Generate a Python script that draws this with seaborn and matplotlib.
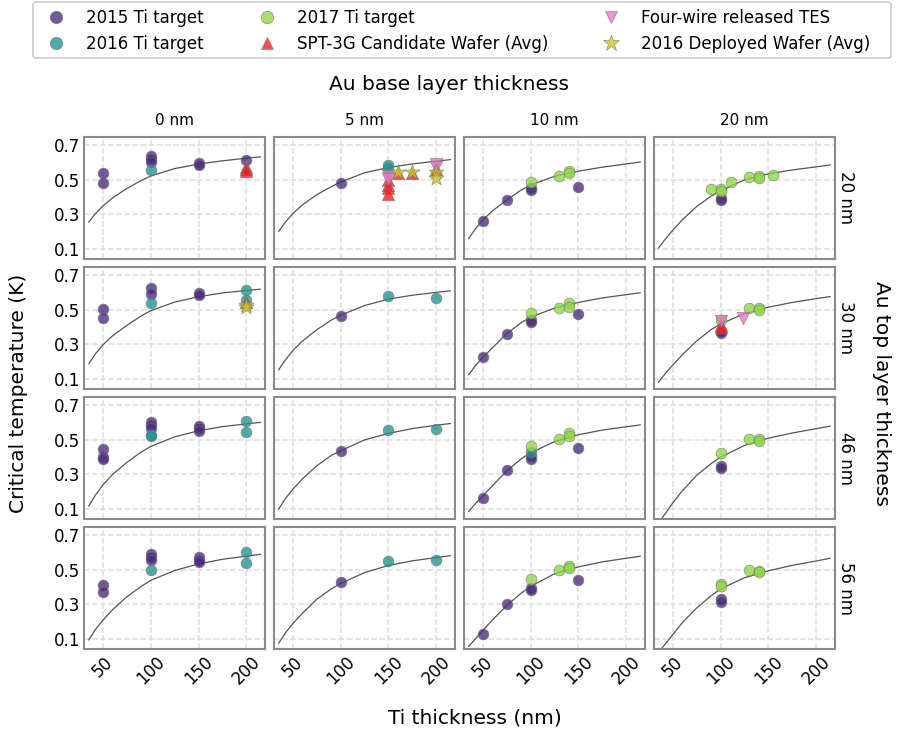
import numpy as np
import pandas as pd
import matplotlib
matplotlib.use("Agg")
import matplotlib.pyplot as plt
import seaborn as sns
from matplotlib.lines import Line2D
from matplotlib.patches import FancyBboxPatch

# ---------------- data ----------------
top_layers = [20, 30, 46, 56]          # Au top layer thickness (rows)
base_layers = [0, 5, 10, 20]           # Au base layer thickness (columns)
x_ticks = [50, 100, 150, 200]
y_ticks = [0.1, 0.3, 0.5, 0.7]

# 2015 Ti target: (top, base, Ti, Tc)
s2015_top  = [20]*8 + [20] + [20]*5 + [20]*2 + [30]*6 + [30] + [30]*5 + [30]*2 + [46]*9 + [46] + [46]*5 + [46]*2 + [56]*8 + [56] + [56]*5 + [56]*2
s2015_base = [0]*8 + [5] + [10]*5 + [20]*2 + [0]*6 + [5] + [10]*5 + [20]*2 + [0]*9 + [5] + [10]*5 + [20]*2 + [0]*8 + [5] + [10]*5 + [20]*2
s2015_ti = [50, 50, 100, 100, 100, 150, 150, 200,
            100,
            50, 75, 100, 100, 150,
            100, 100,
            50, 50, 100, 100, 150, 150,
            100,
            50, 75, 100, 100, 150,
            100, 100,
            50, 50, 50, 100, 100, 100, 150, 150, 150,
            100,
            50, 75, 100, 100, 150,
            100, 100,
            50, 50, 100, 100, 100, 150, 150, 150,
            100,
            50, 75, 100, 100, 150,
            100, 100]
s2015_tc = [0.537, 0.483, 0.637, 0.620, 0.604, 0.600, 0.588, 0.617,
            0.483,
            0.262, 0.383, 0.450, 0.440, 0.460,
            0.396, 0.383,
            0.504, 0.450, 0.627, 0.594, 0.598, 0.585,
            0.465,
            0.225, 0.362, 0.440, 0.431, 0.475,
            0.377, 0.363,
            0.448, 0.400, 0.390, 0.602, 0.585, 0.569, 0.583, 0.569, 0.554,
            0.438,
            0.162, 0.323, 0.406, 0.392, 0.454,
            0.348, 0.335,
            0.412, 0.370, 0.590, 0.575, 0.555, 0.574, 0.560, 0.548,
            0.428,
            0.129, 0.304, 0.393, 0.383, 0.443,
            0.332, 0.317]

# 2016 Ti target
s2016_top  = [20, 20, 20, 30, 30, 30, 30, 30, 46, 46, 46, 46, 46, 46, 46, 56, 56, 56, 56, 56]
s2016_base = [0, 5, 5, 0, 0, 0, 5, 5, 0, 0, 0, 0, 5, 5, 10, 0, 0, 0, 5, 5]
s2016_ti   = [100, 150, 150, 100, 200, 200, 150, 200, 100, 100, 200, 200, 150, 200, 100, 100, 200, 200, 150, 200]
s2016_tc   = [0.556, 0.585, 0.570, 0.540, 0.613, 0.556, 0.579, 0.569, 0.530, 0.521, 0.612, 0.544,
              0.560, 0.565, 0.429, 0.502, 0.603, 0.538, 0.551, 0.555]

# 2017 Ti target
s2017_top  = [20]*4 + [20]*8 + [30]*4 + [30]*4 + [46]*4 + [46]*4 + [56]*4 + [56]*5
s2017_base = [10]*4 + [20]*8 + [10]*4 + [20]*4 + [10]*4 + [20]*4 + [10]*4 + [20]*5
s2017_ti   = [100, 130, 140, 140,
              90, 100, 100, 111, 130, 140, 140, 155,
              100, 130, 140, 140,
              100, 130, 140, 140,
              100, 130, 140, 140,
              100, 130, 140, 140,
              100, 130, 140, 140,
              100, 100, 130, 140, 140]
s2017_tc   = [0.488, 0.523, 0.550, 0.537,
              0.446, 0.446, 0.435, 0.488, 0.517, 0.523, 0.508, 0.527,
              0.483, 0.508, 0.537, 0.517,
              0.440, 0.508, 0.512, 0.498,
              0.463, 0.508, 0.540, 0.525,
              0.425, 0.508, 0.508, 0.496,
              0.450, 0.500, 0.523, 0.510,
              0.418, 0.405, 0.498, 0.494, 0.490]

# SPT-3G Candidate Wafer (Avg)
spt_top  = [20, 20, 20, 20, 20, 20, 20, 20, 20, 20, 30, 30, 30]
spt_base = [0, 0, 0, 5, 5, 5, 5, 5, 5, 5, 0, 20, 20]
spt_ti   = [200, 200, 200, 150, 150, 150, 150, 160, 175, 200, 200, 100, 100]
spt_tc   = [0.575, 0.560, 0.550, 0.500, 0.470, 0.450, 0.420, 0.537, 0.540, 0.560, 0.546, 0.410, 0.400]

# Four-wire released TES
fw_top  = [20, 20, 20, 20, 30, 30]
fw_base = [5, 5, 5, 5, 20, 20]
fw_ti   = [150, 150, 200, 200, 100, 124]
fw_tc   = [0.520, 0.505, 0.594, 0.575, 0.435, 0.454]

# 2016 Deployed Wafer (Avg)
dep_top  = [20, 20, 20, 20, 30, 30]
dep_base = [5, 5, 5, 5, 0, 0]
dep_ti   = [160, 175, 200, 200, 200, 200]
dep_tc   = [0.546, 0.545, 0.546, 0.508, 0.530, 0.517]

# fit curves, one list per base layer in each row
fit_ti = [35, 42, 50, 60, 75, 90, 100, 125, 150, 175, 200, 215]
fit_top20 = [[0.254, 0.304, 0.349, 0.395, 0.450, 0.496, 0.522, 0.565, 0.591, 0.610, 0.625, 0.633],
             [0.200, 0.254, 0.305, 0.355, 0.414, 0.460, 0.487, 0.541, 0.571, 0.592, 0.608, 0.617],
             [0.158, 0.215, 0.267, 0.320, 0.383, 0.440, 0.470, 0.520, 0.550, 0.573, 0.592, 0.603],
             [0.104, 0.155, 0.208, 0.268, 0.345, 0.405, 0.435, 0.500, 0.534, 0.557, 0.575, 0.586]]
fit_top30 = [[0.187, 0.245, 0.298, 0.350, 0.410, 0.465, 0.495, 0.545, 0.576, 0.598, 0.612, 0.620],
             [0.152, 0.210, 0.265, 0.320, 0.385, 0.440, 0.469, 0.525, 0.562, 0.585, 0.601, 0.610],
             [0.123, 0.175, 0.225, 0.280, 0.362, 0.425, 0.458, 0.510, 0.543, 0.569, 0.588, 0.599],
             [0.080, 0.130, 0.180, 0.240, 0.320, 0.385, 0.418, 0.478, 0.515, 0.543, 0.565, 0.577]]
fit_top46 = [[0.117, 0.180, 0.240, 0.300, 0.370, 0.430, 0.462, 0.518, 0.553, 0.577, 0.593, 0.602],
             [0.098, 0.160, 0.215, 0.275, 0.350, 0.410, 0.437, 0.500, 0.538, 0.566, 0.585, 0.595],
             [0.085, 0.130, 0.175, 0.235, 0.320, 0.390, 0.425, 0.490, 0.530, 0.557, 0.576, 0.587],
             [0.017, 0.072, 0.135, 0.205, 0.295, 0.362, 0.400, 0.468, 0.510, 0.540, 0.565, 0.580]]
fit_top56 = [[0.094, 0.155, 0.210, 0.270, 0.345, 0.405, 0.440, 0.497, 0.535, 0.562, 0.580, 0.591],
             [0.075, 0.135, 0.190, 0.250, 0.330, 0.390, 0.422, 0.485, 0.526, 0.553, 0.572, 0.583],
             [0.056, 0.100, 0.150, 0.210, 0.295, 0.365, 0.405, 0.478, 0.518, 0.547, 0.568, 0.580],
             [0.020, 0.070, 0.125, 0.195, 0.280, 0.350, 0.390, 0.455, 0.495, 0.527, 0.552, 0.568]]

# ---------------- build tables ----------------
def frame(top, base, ti, tc, kind):
    return pd.DataFrame({"top": top, "base": base, "ti": ti, "tc": tc, "kind": kind})

points = pd.concat([
    frame(s2015_top, s2015_base, s2015_ti, s2015_tc, "2015 Ti target"),
    frame(s2016_top, s2016_base, s2016_ti, s2016_tc, "2016 Ti target"),
    frame(s2017_top, s2017_base, s2017_ti, s2017_tc, "2017 Ti target"),
    frame(spt_top, spt_base, spt_ti, spt_tc, "SPT-3G Candidate Wafer (Avg)"),
    frame(fw_top, fw_base, fw_ti, fw_tc, "Four-wire released TES"),
    frame(dep_top, dep_base, dep_ti, dep_tc, "2016 Deployed Wafer (Avg)"),
], ignore_index=True)

fit_rows = {20: fit_top20, 30: fit_top30, 46: fit_top46, 56: fit_top56}
fit_df = pd.concat([
    pd.DataFrame({"top": t, "base": b, "ti": fit_ti, "tc": fit_rows[t][j]})
    for t in top_layers for j, b in enumerate(base_layers)
], ignore_index=True)

kinds = ["2015 Ti target", "2016 Ti target", "2017 Ti target",
         "SPT-3G Candidate Wafer (Avg)", "Four-wire released TES", "2016 Deployed Wafer (Avg)"]
colors = {"2015 Ti target": "#4a2c7e", "2016 Ti target": "#21938f", "2017 Ti target": "#8fd744",
          "SPT-3G Candidate Wafer (Avg)": "#ff1a1a", "Four-wire released TES": "#e377c2",
          "2016 Deployed Wafer (Avg)": "#c8c81e"}
markers = {"2015 Ti target": "o", "2016 Ti target": "o", "2017 Ti target": "o",
           "SPT-3G Candidate Wafer (Avg)": "^", "Four-wire released TES": "v",
           "2016 Deployed Wafer (Avg)": "*"}
sizes = {"2015 Ti target": 60, "2016 Ti target": 60, "2017 Ti target": 60,
         "SPT-3G Candidate Wafer (Avg)": 80, "Four-wire released TES": 80,
         "2016 Deployed Wafer (Avg)": 130}

# ---------------- style ----------------
sns.set_style("whitegrid", {"grid.linestyle": "--", "grid.color": "#dedede",
                            "axes.edgecolor": "#8a8a8a"})
plt.rcParams["font.family"] = ["DejaVu Sans"]
plt.rcParams["text.color"] = "black"
plt.rcParams["axes.labelcolor"] = "black"
plt.rcParams["xtick.color"] = "black"
plt.rcParams["ytick.color"] = "black"

fig, axes = plt.subplots(4, 4, figsize=(8.97, 7.39), dpi=100, sharex=True, sharey=True)
fig.subplots_adjust(left=0.0936, right=0.931, top=0.8146, bottom=0.1218,
                    wspace=0.047, hspace=0.068)

for i, t in enumerate(top_layers):
    for j, b in enumerate(base_layers):
        ax = axes[i, j]
        f = fit_df[(fit_df.top == t) & (fit_df.base == b)]
        sns.lineplot(data=f, x="ti", y="tc", ax=ax, color="#555555", linewidth=0.9,
                     sort=False, zorder=2)
        sub = points[(points.top == t) & (points.base == b)]
        for k in kinds:
            d = sub[sub.kind == k]
            if len(d) == 0:
                continue
            sns.scatterplot(data=d, x="ti", y="tc", ax=ax, color=colors[k], marker=markers[k],
                            s=sizes[k], alpha=0.78, edgecolor="#777777", linewidth=0.5,
                            zorder=3, legend=False)
        ax.set_xlim(30, 220)
        ax.set_ylim(0.042, 0.748)
        ax.set_xticks(x_ticks)
        ax.set_yticks(y_ticks)
        ax.set_yticklabels([f"{v:.1f}" for v in y_ticks])
        ax.set_xlabel("")
        ax.set_ylabel("")
        ax.grid(True, linestyle="--", color="#dedede", linewidth=1.1)
        for sp in ax.spines.values():
            sp.set_linewidth(1.5)
            sp.set_color("#8a8a8a")
        ax.tick_params(axis="both", length=0, labelsize=12, pad=3, colors="black")
        ax.tick_params(axis="x", labelrotation=45)
        if i == 0:
            ax.set_title(f"{b} nm", fontsize=11, pad=9, color="black")
        if j == 3:
            ax.text(1.06, 0.5, f"{t} nm", transform=ax.transAxes, rotation=270,
                    ha="center", va="center", fontsize=12, color="black")

fig.text(449 / 897, 1 - 85 / 739, "Au base layer thickness", ha="center", va="center", fontsize=14.5)
fig.text(881 / 897, 1 - 393 / 739, "Au top layer thickness", ha="center", va="center",
         rotation=270, fontsize=14.5)
fig.text(19 / 897, 1 - 393 / 739, "Critical temperature (K)", ha="center", va="center",
         rotation=90, fontsize=14.5)
fig.text(475 / 897, 1 - 718 / 739, "Ti thickness (nm)", ha="center", va="center", fontsize=14.5)

# legend frame drawn separately so the entries can sit where the reference has them
frame_box = FancyBboxPatch((33 / 897, 1 - 58 / 739), (891 - 33) / 897, 56 / 739,
                           boxstyle="round,pad=0,rounding_size=0.004",
                           transform=fig.transFigure, facecolor="white",
                           edgecolor="#cccccc", linewidth=1.2, zorder=0)
fig.patches.append(frame_box)

handles = [Line2D([], [], linestyle="", marker=markers[k], markersize=9 if markers[k] != "*" else 12,
                  markerfacecolor=colors[k], markeredgecolor="#777777", markeredgewidth=0.5,
                  alpha=0.78) for k in kinds]
leg = fig.legend(handles, kinds, loc="upper left", ncol=3, mode="expand",
                 bbox_to_anchor=(33 / 897, 1 - 2 / 739, (877 - 33) / 897, 0),
                 fontsize=12, frameon=False, borderaxespad=0)

fig.savefig("out.png", dpi=100)
